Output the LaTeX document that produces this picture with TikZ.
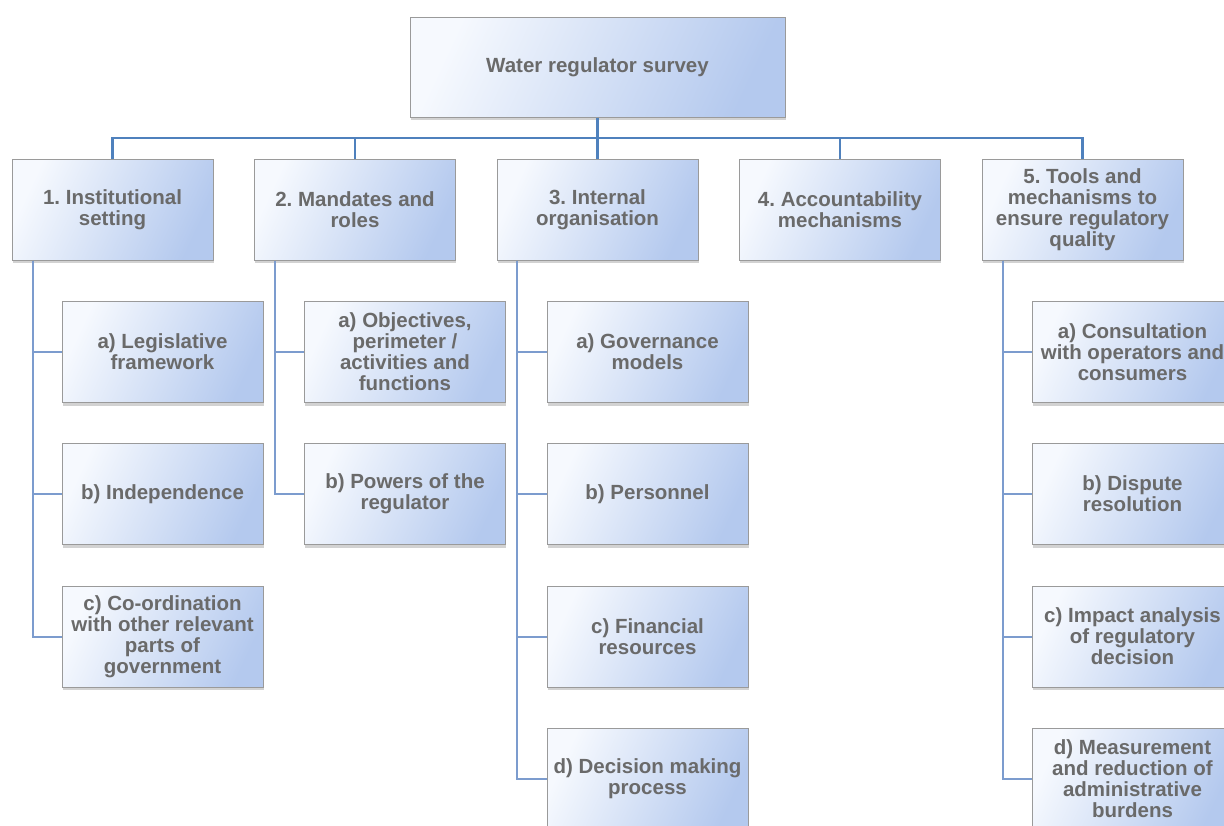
\documentclass[tikz,border=0pt]{standalone}
\usepackage{fontspec}
\setmainfont{Liberation Sans}
\usetikzlibrary{shadows}
\definecolor{txtgray}{HTML}{6A6A6A}
\definecolor{boxlight}{HTML}{F6F9FE}
\definecolor{boxdark}{HTML}{B4C9EE}
\definecolor{mainline}{HTML}{4F81BD}
\definecolor{subline}{HTML}{7C9CCE}
\definecolor{boxborder}{HTML}{9A9A9A}
\frenchspacing
\begin{document}
\begin{tikzpicture}[x=1pt,y=-1pt,
  box/.style={draw=boxborder, line width=1pt, top color=boxlight, bottom color=boxdark, shading angle=65,
    minimum width=201pt, minimum height=101pt, inner sep=2pt, align=center,
    font=\fontsize{20.5}{21}\selectfont\bfseries, text=txtgray,
    drop shadow={shadow xshift=0.5pt, shadow yshift=-3pt, opacity=0.35}},
  mainconn/.style={draw=mainline, line width=2.8pt},
  subconn/.style={draw=subline, line width=2pt}]
\useasboundingbox (0,0) rectangle (1224,825);
\clip (0,0) rectangle (1224,825);
\fill[white] (0,0) rectangle (1224,825);
\coordinate (bar) at (597.5,138);
% nodes
\node[box, minimum width=375pt, minimum height=100pt] (top) at (597.5,67) {Water regulator survey};
\node[box] (L1) at (112.5,209.5) {1. Institutional\\setting};
\node[box] (L2) at (355,209.5) {2. Mandates and\\roles};
\node[box] (L3) at (597.5,209.5) {3. Internal\\organisation};
\node[box] (L4) at (840,209.5) {4. Accountability\\mechanisms};
\node[box] (L5) at (1082.5,209.5) {5. Tools and\\mechanisms to\\ensure regulatory\\quality};
\node[box] (A1) at (162.5,352) {a) Legislative\\framework};
\node[box] (A2) at (162.5,494) {b) Independence};
\node[box] (A3) at (162.5,636.5) {c) Co-ordination\\with other relevant\\parts of\\government};
\node[box] (B1) at (405,352) {a) Objectives,\\perimeter /\\activities and\\functions};
\node[box] (B2) at (405,494) {b) Powers of the\\regulator};
\node[box] (C1) at (647.5,352) {a) Governance\\models};
\node[box] (C2) at (647.5,494) {b) Personnel};
\node[box] (C3) at (647.5,636.5) {c) Financial\\resources};
\node[box] (C4) at (647.5,779) {d) Decision making\\process};
\node[box] (E1) at (1132.5,352) {a) Consultation\\with operators and\\consumers};
\node[box] (E2) at (1132.5,494) {b) Dispute\\resolution};
\node[box] (E3) at (1132.5,636.5) {c) Impact analysis\\of regulatory\\decision};
\node[box] (E4) at (1132.5,779) {d) Measurement\\and reduction of\\administrative\\burdens};
% main connectors
\draw[mainconn] (top.south) -- (L3.north);
\foreach \n in {L1,L2,L4,L5} \draw[mainconn] (\n.north) |- (bar);
% sub connectors
\foreach \n in {A1,A2,A3} \draw[subconn] ([xshift=21pt]L1.south west) |- (\n.west);
\foreach \n in {B1,B2} \draw[subconn] ([xshift=21pt]L2.south west) |- (\n.west);
\foreach \n in {C1,C2,C3,C4} \draw[subconn] ([xshift=20pt]L3.south west) |- (\n.west);
\foreach \n in {E1,E2,E3,E4} \draw[subconn] ([xshift=21pt]L5.south west) |- (\n.west);
\end{tikzpicture}
\end{document}
